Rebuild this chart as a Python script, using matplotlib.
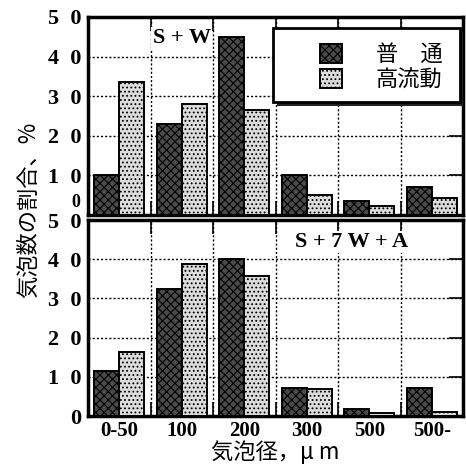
import matplotlib
matplotlib.use("Agg")
import matplotlib.pyplot as plt
from matplotlib.patches import Rectangle
import numpy as np

categories = ["0-50", "100", "200", "300", "500", "500-"]
sw_normal = [10, 23, 45, 10, 3.5, 7]
sw_high = [33.5, 28, 26.5, 5, 2.2, 4.3]
s7wa_normal = [11.6, 32.4, 40, 7.1, 1.8, 7.1]
s7wa_high = [16.4, 38.7, 35.7, 6.8, 0.7, 1.1]
series_names = ["普\u3000通", "高流動"]
ytick_vals = [0, 10, 20, 30, 40, 50]
ytick_labels = ["0", "1  0", "2  0", "3  0", "4  0", "5  0"]
panel_titles = ["S + W", "S + 7 W + A"]

plt.rcParams['hatch.linewidth'] = 0.8
W, H = 466, 465
fig = plt.figure(figsize=(W / 100, H / 100), dpi=100)

def fx(px):
    return px / W

def fy(py):
    return 1 - py / H

left, right = 88, 463
ax1 = fig.add_axes([fx(left), fy(215), fx(right - left), fy(17) - fy(215)])
ax2 = fig.add_axes([fx(left), fy(416), fx(right - left), fy(220) - fy(416)])

serif = "Liberation Serif"
cjk = ["Noto Sans CJK JP", "DejaVu Sans"]
x = np.arange(len(categories))
bw = 0.4

for ax, dn, dh in [(ax1, sw_normal, sw_high), (ax2, s7wa_normal, s7wa_high)]:
    ax.bar(x - bw / 2, dn, bw, facecolor="#4a4a4a", edgecolor="black",
           hatch="xxxx", linewidth=1.4, zorder=3, label=series_names[0])
    ax.bar(x + bw / 2, dh, bw, facecolor="#dcdcdc", edgecolor="black",
           hatch="....", linewidth=1.4, zorder=3, label=series_names[1])
    ax.set_xlim(-0.5, len(categories) - 0.5)
    ax.set_ylim(0, 50)
    ax.set_yticks(ytick_vals)
    ax.set_yticklabels(ytick_labels, fontfamily=serif, fontweight="bold", fontsize=16)
    ax.set_xticks(np.arange(len(categories) - 1) + 0.5)
    ax.set_xticklabels([])
    for yv in [10, 20, 30, 40]:
        ax.axhline(yv, color="black", lw=1, ls=(0, (1.5, 1.5)), zorder=1)
    for xv in np.arange(len(categories) - 1) + 0.5:
        ax.axvline(xv, color="black", lw=1, ls=(0, (1.5, 1.5)), zorder=1)
    ax.tick_params(direction="in", length=10, width=1.2, top=True, right=True,
                   bottom=True, left=True, pad=5)
    ax.tick_params(axis="y", which="both", left=False)
    for s in ax.spines.values():
        s.set_linewidth(2.5)
    ax.set_facecolor("white")

# panel titles
ax1.text(1.0, 44.6, panel_titles[0], ha="center", va="center", fontfamily=serif,
         fontweight="bold", fontsize=16, zorder=5,
         bbox=dict(facecolor="white", edgecolor="none", pad=1))
ax2.text(3.72, 44.4, panel_titles[1], ha="center", va="center", fontfamily=serif,
         fontweight="bold", fontsize=16, zorder=5,
         bbox=dict(facecolor="white", edgecolor="none", pad=1))

# x category labels
for xi, c in zip(x, categories):
    ax2.text(xi, -1.4, c, ha="center", va="top", fontfamily=serif, fontweight="bold",
             fontsize=15)

# top panel's 0 label, raised as in the reference
ax1.set_yticklabels([""] + ytick_labels[1:])
ax1.text(-0.022, 3.2, ytick_labels[0], transform=ax1.get_yaxis_transform(), ha="right",
         va="center", fontfamily=serif, fontweight="bold", fontsize=13)

# legend box with dark shadow
bx0, bx1 = (273 - 88) / 375, (460 - 88) / 375
by0, by1 = (215 - 102) / 198, (215 - 28) / 198
shadow = Rectangle((bx0 + 4 / 375, by0 - 4 / 198), bx1 - bx0, by1 - by0,
                   transform=ax1.transAxes, facecolor="#222222", edgecolor="none",
                   zorder=8)
box = Rectangle((bx0, by0), bx1 - bx0, by1 - by0, transform=ax1.transAxes,
                facecolor="white", edgecolor="black", linewidth=2, zorder=9)
ax1.add_patch(shadow)
ax1.add_patch(box)
leg = ax1.legend(loc="upper left", bbox_to_anchor=((320 - 88) / 375, (215 - 43) / 198),
                 prop=dict(family=cjk, size=16), frameon=False,
                 handlelength=1.0, handleheight=0.9, handletextpad=1.5,
                 borderpad=0, labelspacing=0.1, borderaxespad=0)
leg.set_zorder(10)

fig.text(fx(28), fy(210), "気泡数の割合、%", rotation=90, ha="center", va="center",
         fontfamily=cjk, fontsize=16)
fig.text(fx(275), fy(452), "気泡径，μ m", ha="center", va="center",
         fontfamily=cjk, fontsize=16)

fig.savefig("out.png", dpi=100, facecolor="white")
